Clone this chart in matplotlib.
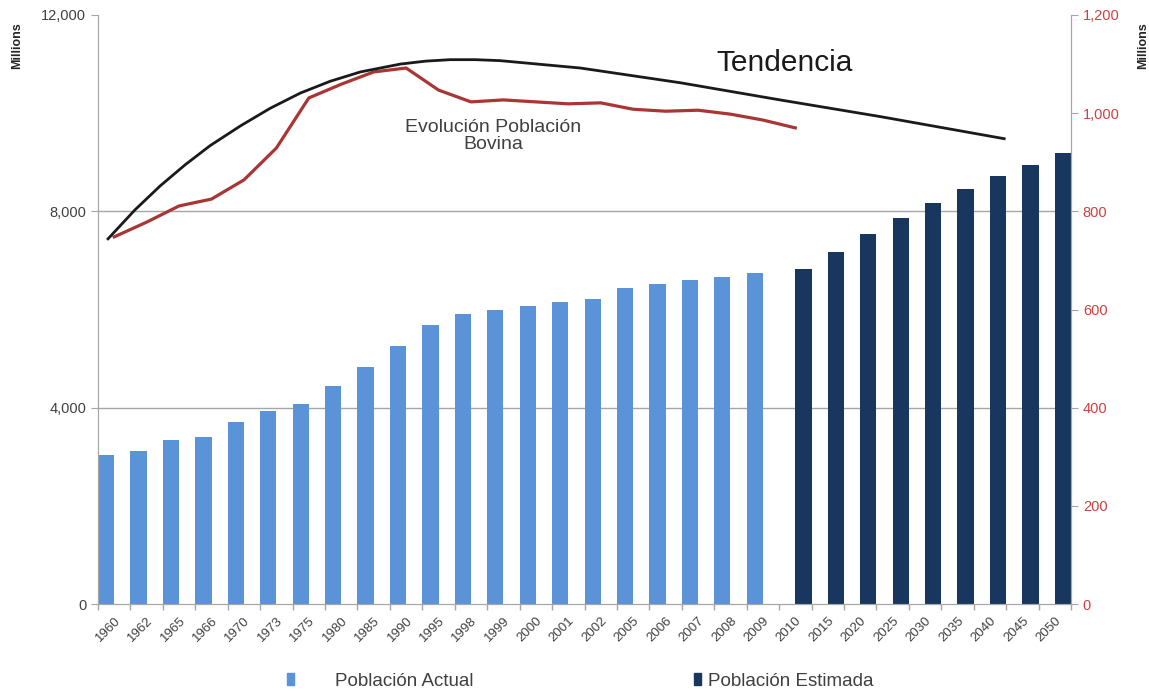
import matplotlib
matplotlib.use("Agg")
import matplotlib.pyplot as plt
import numpy as np
from matplotlib.patches import Patch

plt.rcParams['font.family'] = ['Liberation Sans', 'DejaVu Sans']

years = ["1960", "1962", "1965", "1966", "1970", "1973", "1975", "1980", "1985", "1990",
         "1995", "1998", "1999", "2000", "2001", "2002", "2005", "2006", "2007", "2008",
         "2009", "2010", "2015", "2020", "2025", "2030", "2035", "2040", "2045", "2050"]

# Población Actual (millions), 1960..2009
pop_actual = [3036, 3117, 3341, 3402, 3708, 3932, 4075, 4441, 4828, 5256,
              5684, 5908, 5990, 6071, 6153, 6214, 6438, 6520, 6601, 6662, 6744]
# Población Estimada (millions), 2010..2050
pop_estimada = [6825, 7171, 7538, 7864, 8170, 8455, 8720, 8944, 9188]

# Evolución Población Bovina (millions), 1960..2010
bovina = [748, 778, 811, 825, 864, 929, 1031, 1059, 1084, 1092,
          1047, 1023, 1027, 1023, 1019, 1021, 1008, 1004, 1006, 998, 986, 970]

# Tendencia curve (x in category units)
trend_x = [-0.19, 0.64, 1.42, 2.19, 2.96, 3.89, 4.81, 5.74, 6.66, 7.59, 8.82,
           9.6, 10.36, 11.13, 11.9, 14.37, 17.45, 20.53, 23.62, 27.44]
trend_vals = [744, 803, 852, 895, 934, 974, 1010, 1041, 1065, 1084, 1100,
              1106, 1109, 1109, 1107, 1092, 1062, 1027, 993, 948]

left_ticks = [0, 4000, 8000, 12000]
left_ticklabels = ["0", "4,000", "8,000", "12,000"]
right_ticks = [0, 200, 400, 600, 800, 1000, 1200]
right_ticklabels = ["0", "200", "400", "600", "800", "1,000", "1,200"]

c_actual = "#5B93D8"
c_est = "#17375E"
c_red = "#A93535"
c_grid = "#A6A6A6"
c_text = "#404040"

fig = plt.figure(figsize=(11.49, 6.91), dpi=100)
ax = fig.add_axes([98/1149, 1-604/691, (1071-98)/1149, (604-15)/691])
ax2 = ax.twinx()

n = len(years)
idx = np.arange(n)
n_act = len(pop_actual)
ax.bar(idx[:n_act] - 0.5, pop_actual, width=0.5, align='edge', color=c_actual, zorder=2)
ax.bar(idx[n_act:], pop_estimada, width=0.5, align='edge', color=c_est, zorder=2)

ax.set_xlim(-0.5, n - 0.5)
ax.set_ylim(0, 12000)
ax.set_yticks(left_ticks)
ax.set_yticklabels(left_ticklabels)
ax.set_xticks(idx)
ax.set_xticklabels(years, rotation=45, ha='right', rotation_mode='anchor')
ax.set_xticks(np.arange(n + 1) - 0.5, minor=True)
ax.tick_params(axis='x', which='major', length=0, labelsize=9.5, colors=c_text, pad=8)
ax.tick_params(axis='x', which='minor', length=4, color=c_grid, width=1)
ax.tick_params(axis='y', length=5, color=c_grid, labelsize=10.5, labelcolor=c_text)
for v in [4000, 8000]:
    ax.axhline(v, color=c_grid, lw=1, zorder=1)

for s in ['top']:
    ax.spines[s].set_visible(False)
    ax2.spines[s].set_visible(False)
for s in ['left', 'bottom', 'right']:
    ax.spines[s].set_color(c_grid)
    ax2.spines[s].set_color(c_grid)

ax2.set_ylim(0, 1200)
ax2.set_yticks(right_ticks)
ax2.set_yticklabels(right_ticklabels)
ax2.tick_params(axis='y', length=5, color=c_grid, labelsize=10.5, labelcolor="#D04040")

ax2.plot(idx[:len(bovina)], bovina, color=c_red, lw=2.3, zorder=3)
ax2.plot(trend_x, trend_vals, color="#1A1A1A", lw=2, zorder=3, solid_joinstyle='round')

ax2.text(0.706, 0.9185, "Tendencia", transform=ax.transAxes,
         fontsize=21.5, color="#1A1A1A", ha='center', va='center')
ax2.text(0.406, 0.794, "Evolución Población\nBovina", transform=ax.transAxes,
         fontsize=14, color=c_text, ha='center', va='center', linespacing=1.0)

fig.text(17/1149, 1-46/691, "Millions", rotation=90, fontsize=9, fontweight='bold',
         color="#262626", ha='center', va='center')
fig.text(1143/1149, 1-46/691, "Millions", rotation=90, fontsize=9, fontweight='bold',
         color="#262626", ha='center', va='center')

fig.legend(handles=[Patch(color=c_actual, label="Población Actual")],
           loc='center left', bbox_to_anchor=(270/1149, 1-681/691), frameon=False,
           fontsize=13.5, handlelength=0.38, handleheight=0.6, handletextpad=2.2,
           labelcolor=c_text)
fig.legend(handles=[Patch(color=c_est, label="Población Estimada")],
           loc='center left', bbox_to_anchor=(677/1149, 1-681/691), frameon=False,
           fontsize=13.5, handlelength=0.38, handleheight=0.6, handletextpad=0.4,
           labelcolor=c_text)

fig.savefig("out.png", dpi=100)
